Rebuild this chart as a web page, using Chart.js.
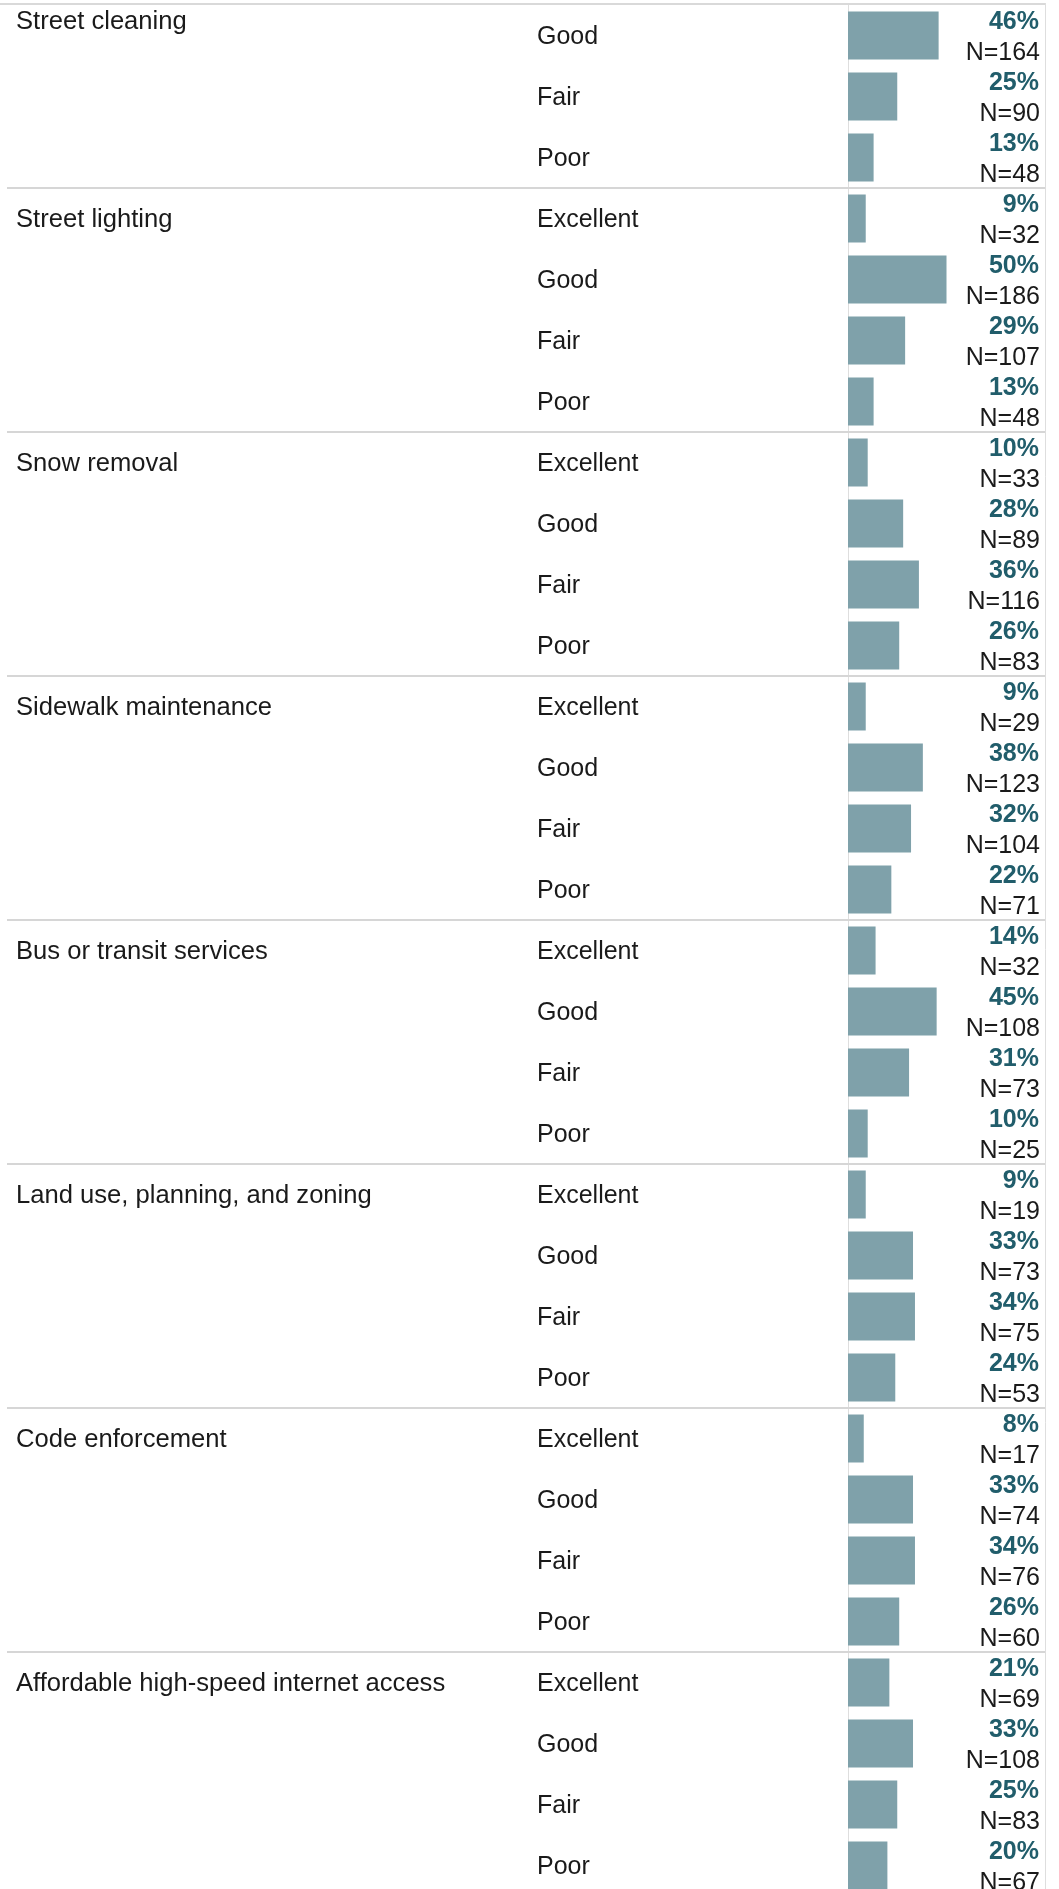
<!DOCTYPE html>
<html>
<head>
<meta charset="utf-8">
<title>Service ratings</title>
<script src="https://cdn.jsdelivr.net/npm/chart.js@4.4.1/dist/chart.umd.min.js"></script>
<style>
  html, body { margin: 0; padding: 0; background: #fff; overflow: hidden; }
  canvas { display: block; }
</style>
</head>
<body>
<canvas id="ratings" width="1059" height="1896"></canvas>
<script>
// services in display order
const serviceNames = [
    "Street cleaning",
    "Street lighting",
    "Snow removal",
    "Sidewalk maintenance",
    "Bus or transit services",
    "Land use, planning, and zoning",
    "Code enforcement",
    "Affordable high-speed internet access"
];
const ratingLevels = ["Excellent", "Good", "Fair", "Poor"];

// share of respondents per rating (%), street cleaning starts at "Good"
const pctValues = [
    [46, 25, 13],
    [9, 50, 29, 13],
    [10, 28, 36, 26],
    [9, 38, 32, 22],
    [14, 45, 31, 10],
    [9, 33, 34, 24],
    [8, 33, 34, 26],
    [21, 33, 25, 20]
];
// number of respondents per rating
const respondents = [
    [164, 90, 48],
    [32, 186, 107, 48],
    [33, 89, 116, 83],
    [29, 123, 104, 71],
    [32, 108, 73, 25],
    [19, 73, 75, 53],
    [17, 74, 76, 60],
    [69, 108, 83, 67]
];

const FONT = '"Liberation Sans", Arial, Helvetica, sans-serif';

// flatten into one row per service/rating pair
let rowLabels = [];
let rowPct = [];
let rowN = [];
let groupStart = [];
serviceNames.forEach(function (name, g) {
    let vals = pctValues[g];
    let levels = ratingLevels.slice(ratingLevels.length - vals.length);
    groupStart.push(rowLabels.length);
    vals.forEach(function (v, i) {
        rowLabels.push(levels[i]);
        rowPct.push(v);
        rowN.push(respondents[g][i]);
    });
});

const tablePlugin = {
    id: 'tableText',
    beforeDatasetsDraw(chart) {
        const ctx = chart.ctx;
        const area = chart.chartArea;
        const y = chart.scales.y;
        const half = (y.getPixelForTick(1) - y.getPixelForTick(0)) / 2;
        ctx.save();
        // outer frame: top rule, axis line and right border
        ctx.strokeStyle = '#d9d9d9';
        ctx.lineWidth = 2;
        ctx.beginPath();
        ctx.moveTo(0, area.top - 1);
        ctx.lineTo(area.right, area.top - 1);
        ctx.stroke();
        ctx.lineWidth = 1;
        ctx.strokeStyle = '#dedede';
        ctx.beginPath();
        ctx.moveTo(area.left + 0.5, area.top);
        ctx.lineTo(area.left + 0.5, area.bottom);
        ctx.moveTo(area.right + 0.5, area.top - 2);
        ctx.lineTo(area.right + 0.5, area.bottom);
        ctx.stroke();
        // separators between services
        ctx.strokeStyle = '#d6d6d6';
        ctx.lineWidth = 2;
        groupStart.forEach(function (start, g) {
            if (g == 0) return;
            let sy = y.getPixelForTick(start) - half;
            ctx.beginPath();
            ctx.moveTo(7, sy);
            ctx.lineTo(area.right, sy);
            ctx.stroke();
        });
        ctx.restore();
    },
    afterDatasetsDraw(chart) {
        const ctx = chart.ctx;
        const area = chart.chartArea;
        const y = chart.scales.y;
        ctx.save();
        ctx.textBaseline = 'alphabetic';
        ctx.font = '25.6px ' + FONT;
        ctx.fillStyle = '#1a1a1a';
        ctx.textAlign = 'left';
        // service headers; the first one is pinned to the top of the pane
        groupStart.forEach(function (start, g) {
            let ty = g == 0 ? area.top + 24 : y.getPixelForTick(start) + 8;
            ctx.fillText(serviceNames[g], 16, ty);
        });
        rowLabels.forEach(function (lab, i) {
            let cy = y.getPixelForTick(i);
            ctx.font = '25px ' + FONT;
            ctx.fillStyle = '#1a1a1a';
            ctx.textAlign = 'left';
            ctx.fillText(lab, 537, cy + 8);
            ctx.textAlign = 'right';
            ctx.fillText('N=' + rowN[i], area.right - 5, cy + 24);
            ctx.font = 'bold 25px ' + FONT;
            ctx.fillStyle = '#215d6b';
            ctx.fillText(rowPct[i] + '%', area.right - 6, cy - 7);
        });
        ctx.restore();
    }
};

new Chart(document.getElementById('ratings'), {
    type: 'bar',
    data: {
        labels: rowLabels,
        datasets: [{
            label: 'Share of respondents',
            data: rowPct,
            backgroundColor: '#7fa1aa',
            borderWidth: 0,
            categoryPercentage: 1,
            barPercentage: 48 / 61
        }]
    },
    options: {
        indexAxis: 'y',
        responsive: false,
        animation: false,
        layout: { padding: { left: 848, right: 14, top: 5, bottom: 0 } },
        scales: {
            x: { display: false, min: 0, max: 100 },
            y: { display: false }
        },
        plugins: {
            legend: { display: false },
            tooltip: { enabled: false }
        }
    },
    plugins: [tablePlugin]
});
</script>
</body>
</html>
